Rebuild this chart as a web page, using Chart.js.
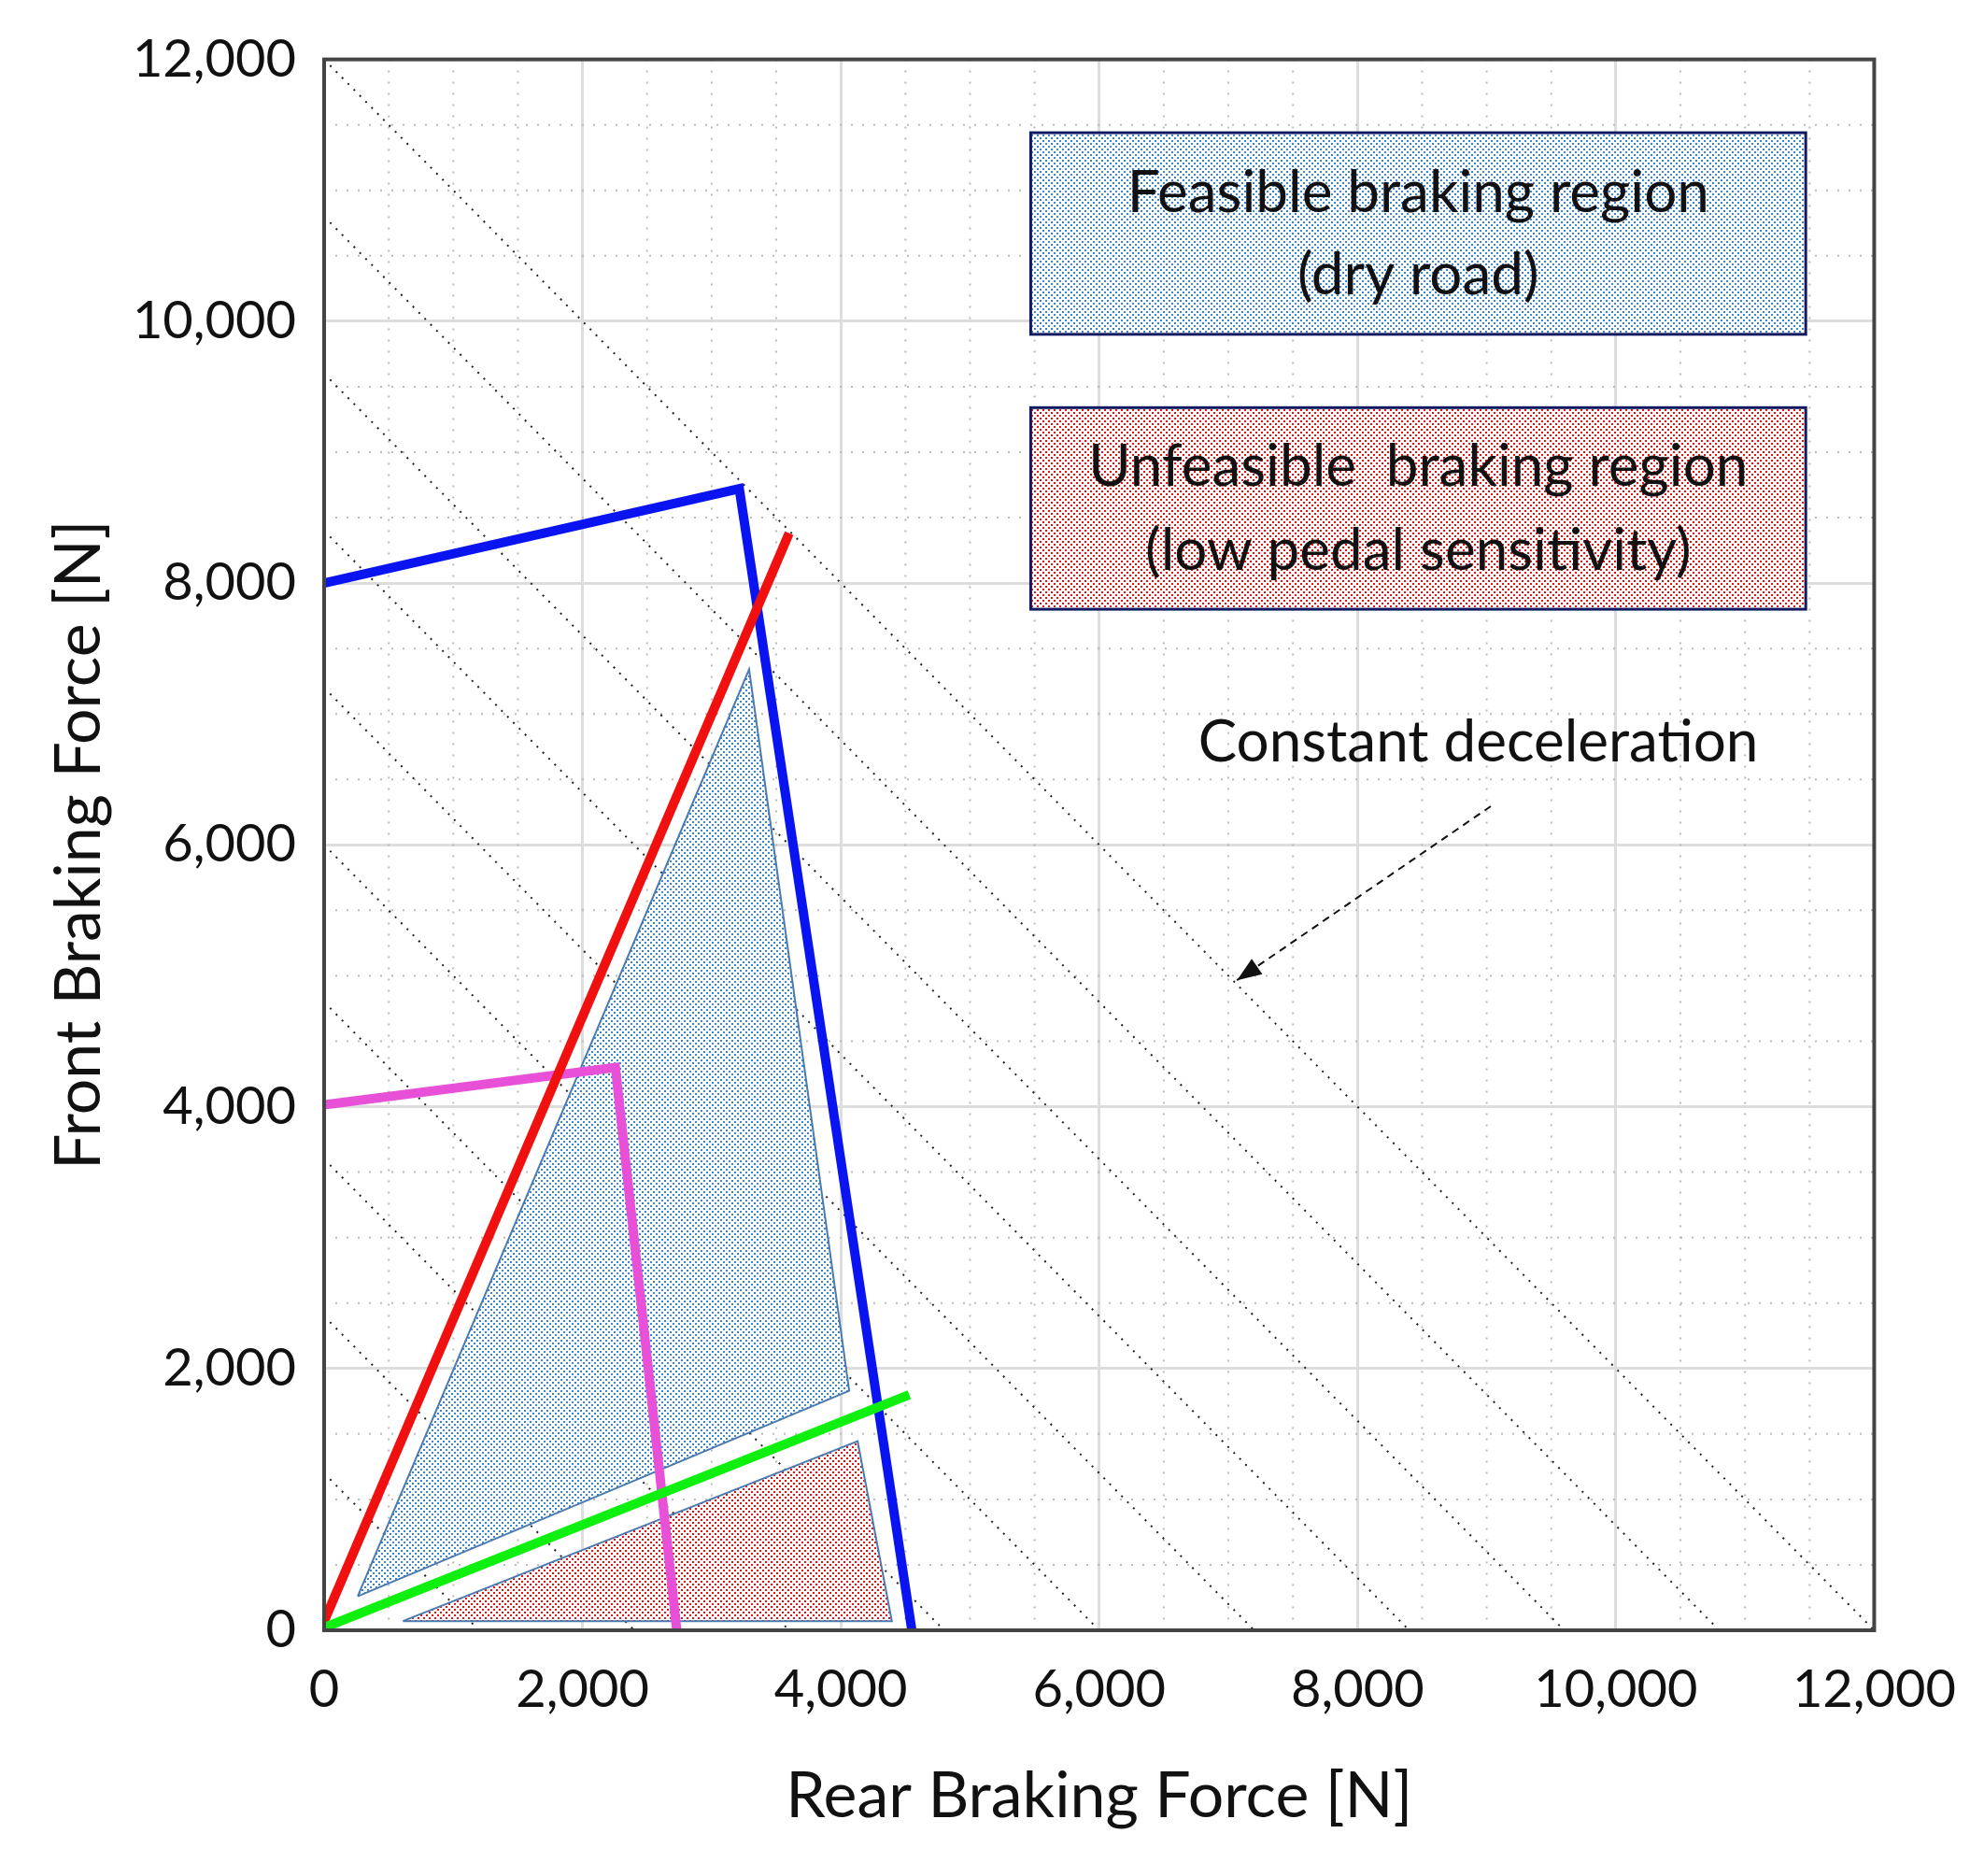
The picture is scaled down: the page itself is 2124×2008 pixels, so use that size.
<!DOCTYPE html>
<html>
<head>
<script src="https://cdn.jsdelivr.net/npm/chart.js"></script>
<style>
  body { margin:0; padding:0; background:#fff }
  canvas { display:block }
</style>
</head>
<body>
<canvas id="c" width="2124" height="2008"></canvas>
<script>
// Data (N)
const blueLimit    = [[0, 8000], [3214, 8720], [4550, 0]];
const redLine      = [[0, 70], [3600, 8380]];
const magentaLimit = [[0, 4015], [2255, 4300], [2730, 0]];
const greenLine    = [[0, 20], [4530, 1800]];
const feasibleTri  = [[260, 260], [3290, 7340], [4065, 1830], [260, 260]];
const unfeasTri    = [[610, 70], [4130, 1445], [4395, 70], [610, 70]];
const decelLevels  = [1200, 2400, 3600, 4800, 6000, 7200, 8400, 9600, 10800, 12000];
const xTicks = [0, 2000, 4000, 6000, 8000, 10000, 12000];
const yTicks = [0, 2000, 4000, 6000, 8000, 10000, 12000];

const FONT = 'Lato, "Open Sans", sans-serif';
const pts = arr => arr.map(([x, y]) => ({ x, y }));

function dotPattern(color, size) {
  const p = document.createElement('canvas');
  p.width = p.height = size;
  const g = p.getContext('2d');
  g.fillStyle = '#fff'; g.fillRect(0, 0, size, size);
  g.fillStyle = color;
  g.fillRect(0, 0, 2, 2);
  g.fillRect(size / 2, size / 2, 2, 2);
  return document.getElementById('c').getContext('2d').createPattern(p, 'repeat');
}
const bluePat = dotPattern('#3a86d6', 6);
const redPat = dotPattern('#e81010', 6);

// lower "order" is drawn on top
const datasets = [];
decelLevels.forEach(c => datasets.push({
  data: pts([[0, c], [c, 0]]), borderColor: '#222', borderWidth: 2, order: 10,
  borderDash: [2, 7], pointRadius: 0, showLine: true, fill: false
}));
datasets.push(
  { data: pts(feasibleTri), order: 8, borderColor: '#4a7ab0', borderWidth: 2, backgroundColor: bluePat, fill: 'shape', pointRadius: 0, showLine: true },
  { data: pts(unfeasTri), order: 8, borderColor: '#4a7ab0', borderWidth: 2, backgroundColor: redPat, fill: 'shape', pointRadius: 0, showLine: true },
  { data: pts(blueLimit), order: 4, borderColor: '#0a14f0', borderWidth: 10, pointRadius: 0, showLine: true, fill: false },
  { data: pts(magentaLimit), order: 3, borderColor: '#e850d8', borderWidth: 10, pointRadius: 0, showLine: true, fill: false },
  { data: pts(redLine), order: 2, borderColor: '#f01010', borderWidth: 10, pointRadius: 0, showLine: true, fill: false },
  { data: pts(greenLine), order: 1, borderColor: '#10f010', borderWidth: 10, pointRadius: 0, showLine: true, fill: false }
);

// minor dotted grid every 500 N
const minorGrid = {
  id: 'minorGrid',
  beforeDatasetsDraw(chart) {
    const { ctx, chartArea: a, scales: { x, y } } = chart;
    ctx.save();
    ctx.strokeStyle = '#bbb'; ctx.lineWidth = 2; ctx.setLineDash([2, 10]);
    for (let v = 500; v < 12000; v += 500) {
      if (v % 2000 === 0) continue;
      const px = x.getPixelForValue(v), py = y.getPixelForValue(v);
      ctx.beginPath(); ctx.moveTo(px, a.top); ctx.lineTo(px, a.bottom); ctx.stroke();
      ctx.beginPath(); ctx.moveTo(a.left, py); ctx.lineTo(a.right, py); ctx.stroke();
    }
    ctx.restore();
  }
};

// text boxes and arrow
const notes = {
  id: 'notes',
  afterDatasetsDraw(chart) {
    const { ctx, chartArea: a, scales: { x, y } } = chart;
    const X = v => x.getPixelForValue(v), Y = v => y.getPixelForValue(v);
    ctx.save();
    const box = (x0, x1, y0, y1, pat) => {
      ctx.fillStyle = pat; ctx.fillRect(X(x0), Y(y0), X(x1) - X(x0), Y(y1) - Y(y0));
      ctx.strokeStyle = '#101a60'; ctx.lineWidth = 3;
      ctx.strokeRect(X(x0), Y(y0), X(x1) - X(x0), Y(y1) - Y(y0));
    };
    box(5470, 11470, 11440, 9900, bluePat);
    box(5470, 11470, 9340, 7800, redPat);
    ctx.fillStyle = '#111'; ctx.textAlign = 'center'; ctx.textBaseline = 'middle';
    ctx.font = '62px ' + FONT;
    ctx.fillText('Feasible braking region', X(8470), Y(10980));
    ctx.fillText('(dry road)', X(8470), Y(10350));
    ctx.fillText('Unfeasible  braking region', X(8470), Y(8885));
    ctx.fillText('(low pedal sensitivity)', X(8470), Y(8245));
    ctx.fillText('Constant deceleration', X(8935), Y(6780));
    // dashed arrow
    const x0 = X(9032), y0 = Y(6295), x1 = X(7067), y1 = Y(4966);
    ctx.strokeStyle = '#111'; ctx.lineWidth = 2; ctx.setLineDash([8, 6]);
    ctx.beginPath(); ctx.moveTo(x0, y0); ctx.lineTo(x1, y1); ctx.stroke();
    ctx.setLineDash([]);
    const ang = Math.atan2(y1 - y0, x1 - x0), L = 26, W = 10;
    ctx.beginPath();
    ctx.moveTo(x1, y1);
    ctx.lineTo(x1 - L * Math.cos(ang) + W * Math.sin(ang), y1 - L * Math.sin(ang) - W * Math.cos(ang));
    ctx.lineTo(x1 - L * Math.cos(ang) - W * Math.sin(ang), y1 - L * Math.sin(ang) + W * Math.cos(ang));
    ctx.closePath(); ctx.fillStyle = '#111'; ctx.fill();
    // frame
    ctx.strokeStyle = '#444'; ctx.lineWidth = 4;
    ctx.strokeRect(a.left, a.top, a.right - a.left, a.bottom - a.top);
    ctx.restore();
  }
};

new Chart(document.getElementById('c'), {
  type: 'scatter',
  data: { datasets },
  plugins: [minorGrid, notes],
  options: {
    responsive: false, animation: false,
    layout: { padding: { left: 40, top: 61, right: 89, bottom: 40 } },
    plugins: { legend: { display: false }, tooltip: { enabled: false } },
    scales: {
      x: {
        type: 'linear', min: 0, max: 12000,
        afterBuildTicks: s => { s.ticks = xTicks.map(v => ({ value: v })); },
        afterFit: s => { s.height = 223; },
        grid: { color: '#ddd', lineWidth: 3, tickLength: 0 },
        border: { display: false },
        ticks: { font: { size: 56, family: FONT }, color: '#111', padding: 30, maxRotation: 0,
                 callback: v => v.toLocaleString('en-US') },
        title: { display: true, text: 'Rear Braking Force [N]', font: { size: 68, family: FONT }, color: '#111', padding: { top: 0 } }
      },
      y: {
        type: 'linear', min: 0, max: 12000,
        afterBuildTicks: s => { s.ticks = yTicks.map(v => ({ value: v })); },
        afterFit: s => { s.width = 307; },
        grid: { color: '#ddd', lineWidth: 3, tickLength: 0 },
        border: { display: false },
        ticks: { font: { size: 56, family: FONT }, color: '#111', padding: 30,
                 callback: v => v.toLocaleString('en-US') },
        title: { display: true, text: 'Front Braking Force [N]', font: { size: 68, family: FONT }, color: '#111', padding: { bottom: 0 } }
      }
    }
  }
});
</script>
</body>
</html>
